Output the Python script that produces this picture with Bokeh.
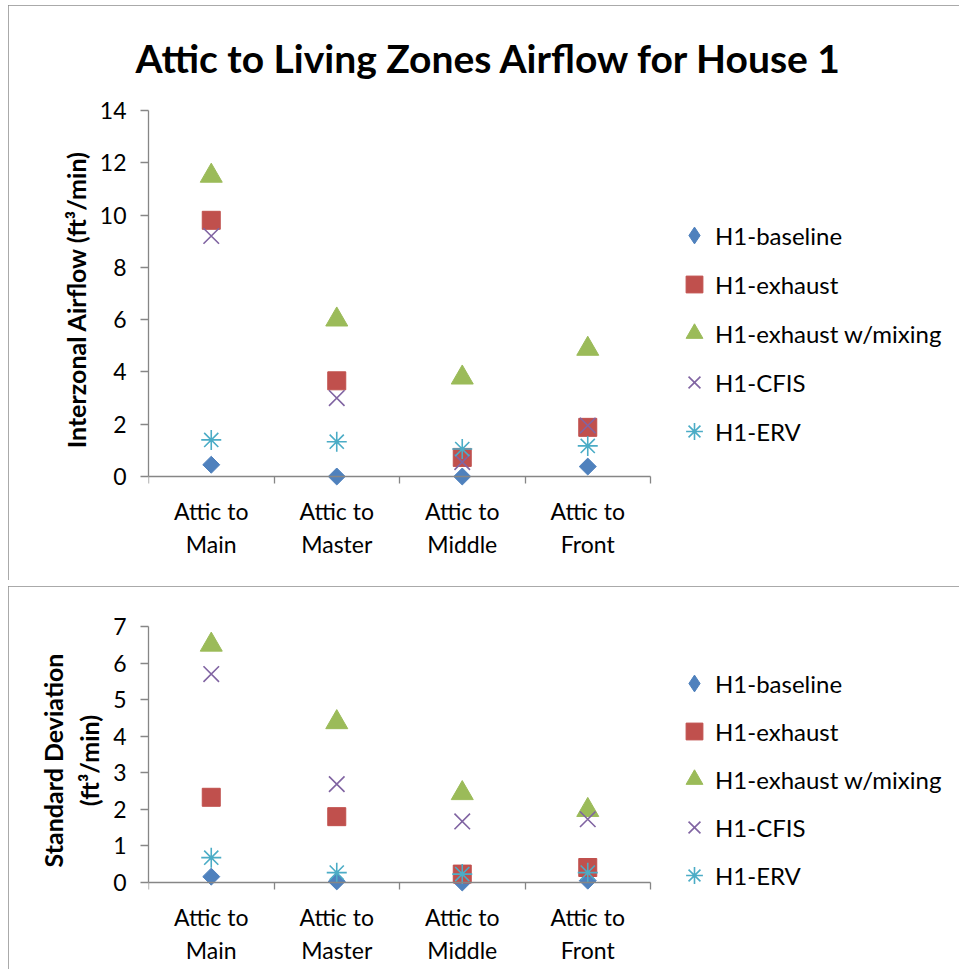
import math
from bokeh.plotting import figure
from bokeh.models import (Range1d, FixedTicker, Legend, LegendItem, LinearAxis, Spacer)
from bokeh.layouts import column, row
from bokeh.embed import file_html
from bokeh.resources import INLINE

# ---------------- data ----------------
categories = ["Attic to\nMain", "Attic to\nMaster", "Attic to\nMiddle", "Attic to\nFront"]
series_names = ["H1-baseline", "H1-exhaust", "H1-exhaust w/mixing", "H1-CFIS", "H1-ERV"]

# Interzonal airflow (ft3/min)
airflow_baseline = [0.45, 0.0, 0.0, 0.38]
airflow_exhaust = [9.8, 3.66, 0.73, 1.88]
airflow_mixing = [11.5, 6.0, 3.78, 4.88]
airflow_cfis = [9.2, 3.0, 0.55, 1.95]
airflow_erv = [1.4, 1.33, 1.05, 1.17]

# Standard deviation (ft3/min)
sd_baseline = [0.16, 0.03, 0.0, 0.05]
sd_exhaust = [2.33, 1.80, 0.23, 0.41]
sd_mixing = [6.5, 4.38, 2.44, 1.98]
sd_cfis = [5.70, 2.69, 1.67, 1.73]
sd_erv = [0.68, 0.27, 0.23, 0.27]

top_yticks = [0, 2, 4, 6, 8, 10, 12, 14]
bottom_yticks = [0, 1, 2, 3, 4, 5, 6, 7]

# ---------------- styles ----------------
FONT = "Lato"
GRID = "#868686"
styles = [
    dict(marker="square", angle=math.pi / 4, size=12, fill_color="#4F81BD", line_color="#4F81BD", line_width=1),
    dict(marker="square", angle=0, size=18, fill_color="#C0504D", line_color="#C0504D", line_width=1),
    dict(marker="triangle", angle=0, size=22, fill_color="#9BBB59", line_color="#9BBB59", line_width=1),
    dict(marker="x", angle=0, size=22, fill_color=None, line_color="#8064A2", line_width=1.6),
    dict(marker="asterisk", angle=0, size=20, fill_color=None, line_color="#4BACC6", line_width=1.6),
]
# legend glyph for the diamond series (legend glyphs are drawn unrotated)
legend_diamond = dict(marker="diamond", size=12, fill_color="#4F81BD", line_color="#4F81BD")

ncat = len(categories)
xs = [i + 0.5 for i in range(ncat)]
bounds = list(range(ncat + 1))

FRAME_CAT_W = 502          # pixel width that the categories occupy
FRAME_W = 951 - 140 - 4    # full frame width (legend lives inside the frame, right of the data)


def make_panel(width, height, ymax, ymin_ext, yticks, ylabel, series, title_text,
               mb_top, mb_bottom, legend_loc, legend_spacing):
    p = figure(width=width, height=height, output_backend="svg", toolbar_location=None,
               x_range=Range1d(0, ncat * FRAME_W / FRAME_CAT_W), y_range=Range1d(ymin_ext, ymax),
               min_border_left=140, min_border_right=4,
               min_border_top=mb_top, min_border_bottom=mb_bottom,
               x_axis_type=None, y_axis_type=None, outline_line_color=None,
               background_fill_color="white", border_fill_color="white")
    p.styles = {"outline": "2px solid #8e8e8e", "outline-offset": "-2px"}
    if title_text:
        p.title.text = title_text
        p.title.text_font = FONT
        p.title.text_font_size = "39px"
        p.title.text_font_style = "bold"
        p.title.text_color = "black"
        p.title.align = "left"
        p.title.vertical_align = "top"
        p.title.offset = -13
        p.title.standoff = 56

    # y axis
    yax = LinearAxis(ticker=FixedTicker(ticks=yticks, minor_ticks=[]), bounds=(0, ymax))
    yax.axis_label = ylabel
    yax.axis_label_text_font = FONT
    yax.axis_label_text_font_size = "25px"
    yax.axis_label_text_font_style = "bold"
    yax.axis_label_text_color = "black"
    yax.axis_label_standoff = 6
    yax.major_label_text_font = FONT
    yax.major_label_text_font_size = "23px"
    yax.major_label_text_color = "black"
    yax.major_label_standoff = 14
    yax.major_tick_out = 8
    yax.major_tick_in = 0
    yax.major_tick_line_color = GRID
    yax.major_tick_line_width = 1.3
    yax.axis_line_color = GRID
    yax.axis_line_width = 1.3
    p.add_layout(yax, "left")

    # x axis line at zero with tick marks on category boundaries
    xline = LinearAxis(ticker=FixedTicker(ticks=bounds, minor_ticks=[]), fixed_location=0,
                       bounds=(0, ncat))
    xline.major_label_overrides = {b: "" for b in bounds}
    xline.major_label_text_font_size = "1px"
    xline.major_label_standoff = 0
    xline.major_tick_out = 7
    xline.major_tick_in = 0
    xline.major_tick_line_color = GRID
    xline.major_tick_line_width = 1.3
    xline.axis_line_color = GRID
    xline.axis_line_width = 1.3
    p.add_layout(xline, "below")

    # category labels at category centres
    xlab = LinearAxis(ticker=FixedTicker(ticks=xs, minor_ticks=[]))
    xlab.major_label_overrides = {x: c for x, c in zip(xs, categories)}
    xlab.major_label_text_font = FONT
    xlab.major_label_text_font_size = "23px"
    xlab.major_label_text_color = "black"
    xlab.major_label_standoff = 8
    xlab.major_tick_out = 0
    xlab.major_tick_in = 0
    xlab.axis_line_color = None
    p.add_layout(xlab, "below")

    p.ygrid.ticker = FixedTicker(ticks=yticks, minor_ticks=[])
    p.ygrid.grid_line_color = GRID
    p.ygrid.grid_line_width = 1.3
    p.ygrid.cross_bounds = (0, ncat)
    p.xgrid.visible = False

    items = []
    for k, (name, vals, st) in enumerate(zip(series_names, series, styles)):
        r = p.scatter(xs, vals, **st)
        if k == 0:
            proxy = p.scatter(xs, vals, visible=False, **legend_diamond)
            items.append(LegendItem(label=name, renderers=[proxy]))
        else:
            items.append(LegendItem(label=name, renderers=[r]))
    leg = Legend(items=items, location=legend_loc, orientation="vertical",
                 label_text_font=FONT, label_text_font_size="24px", label_text_color="black",
                 glyph_width=42, glyph_height=42, label_height=26, label_standoff=0,
                 spacing=legend_spacing, padding=0, margin=0,
                 inactive_fill_alpha=0,
                 border_line_color=None, background_fill_alpha=0)
    p.add_layout(leg)
    return p


top_series = [airflow_baseline, airflow_exhaust, airflow_mixing, airflow_cfis, airflow_erv]
bottom_series = [sd_baseline, sd_exhaust, sd_mixing, sd_cfis, sd_erv]

p1 = make_panel(951, 575, 14, -14 * 12 / 366, top_yticks,
                "Interzonal Airflow (ft\u00b3/min)", top_series,
                "Attic to Living Zones Airflow for House 1",
                105, 92, (525, 36), 7)
p2 = make_panel(951, 383, 7, -7 * 12 / 256, bottom_yticks,
                "Standard Deviation\n(ft\u00b3/min)", bottom_series, None,
                40, 75, (525, -2), 6)

layout = column(
    Spacer(height=5),
    row(Spacer(width=8), p1),
    Spacer(height=6),
    row(Spacer(width=8), p2),
)
open("out.html", "w").write(file_html(layout, INLINE))
